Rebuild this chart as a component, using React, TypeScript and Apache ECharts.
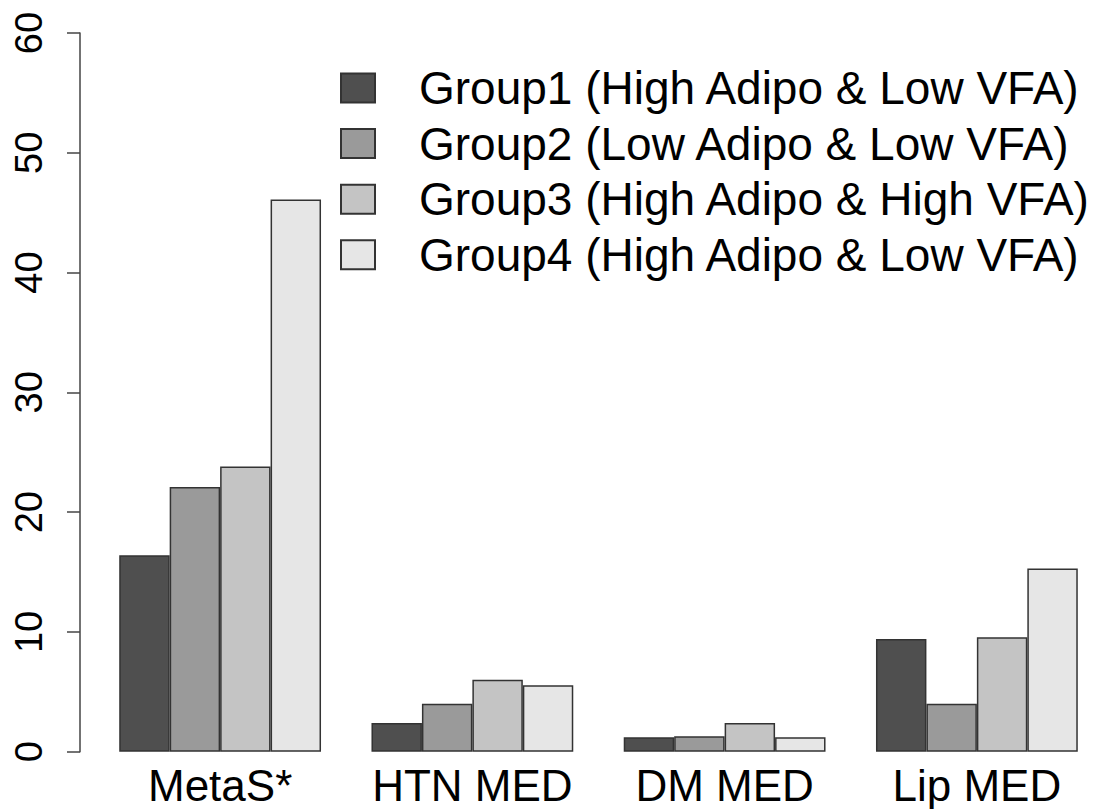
import React, { useEffect, useRef } from "react";
import * as echarts from "echarts";

const categories = ["MetaS*", "HTN MED", "DM MED", "Lip MED"];
const groupNames = [
  "Group1 (High Adipo & Low VFA)",
  "Group2 (Low Adipo & Low VFA)",
  "Group3 (High Adipo & High VFA)",
  "Group4 (High Adipo & Low VFA)",
];
const group1 = [16.4, 2.4, 1.2, 9.4];
const group2 = [22.1, 4.0, 1.3, 4.0];
const group3 = [23.8, 6.0, 2.4, 9.55];
const group4 = [46.1, 5.55, 1.2, 15.3];
const groupValues = [group1, group2, group3, group4];
const groupColors = ["#4f4f4f", "#9a9a9a", "#c4c4c4", "#e6e6e6"];
const yTicks = { min: 0, max: 60, interval: 10 };

const FONT = "Liberation Sans, Arial, Helvetica, sans-serif";

export default function App() {
  const ref = useRef<HTMLDivElement>(null);
  useEffect(() => {
    if (!ref.current) return;
    const chart = echarts.init(ref.current, undefined, { renderer: "svg" });
    chart.setOption({
      animation: false,
      backgroundColor: "#ffffff",
      grid: { left: 94, right: 4, top: 33, bottom: 57.3, containLabel: false },
      legend: {
        orient: "vertical",
        left: 335,
        top: 60,
        itemWidth: 34,
        itemHeight: 29,
        itemGap: 9.6,
        icon: "rect",
        data: groupNames,
        textStyle: {
          fontSize: 46,
          color: "#000",
          fontFamily: FONT,
          padding: [0, 0, 0, 39],
        },
      },
      xAxis: {
        type: "category",
        data: categories,
        axisLine: { show: false },
        axisTick: { show: false },
        axisLabel: {
          interval: 0,
          fontSize: 44,
          color: "#000",
          fontFamily: FONT,
          margin: 12,
          lineHeight: 44,
        },
      },
      yAxis: {
        type: "value",
        min: yTicks.min,
        max: yTicks.max,
        interval: yTicks.interval,
        offset: 14,
        splitLine: { show: false },
        axisLine: { show: true, lineStyle: { color: "#444", width: 1.5 } },
        axisTick: { show: true, length: 13, lineStyle: { color: "#444", width: 1.5 } },
        axisLabel: {
          rotate: 90,
          margin: 32,
          fontSize: 38,
          color: "#000",
          fontFamily: FONT,
        },
      },
      series: groupNames.map((name, i) => ({
        name,
        type: "bar",
        data: groupValues[i],
        barGap: "0%",
        barCategoryGap: "20%",
        itemStyle: {
          color: groupColors[i],
          borderColor: "#333",
          borderWidth: 1.5,
        },
      })),
    });
    return () => chart.dispose();
  }, []);
  return (
    <div
      ref={ref}
      style={{ position: "absolute", left: 0, top: 0, width: 1107, height: 809 }}
    />
  );
}
